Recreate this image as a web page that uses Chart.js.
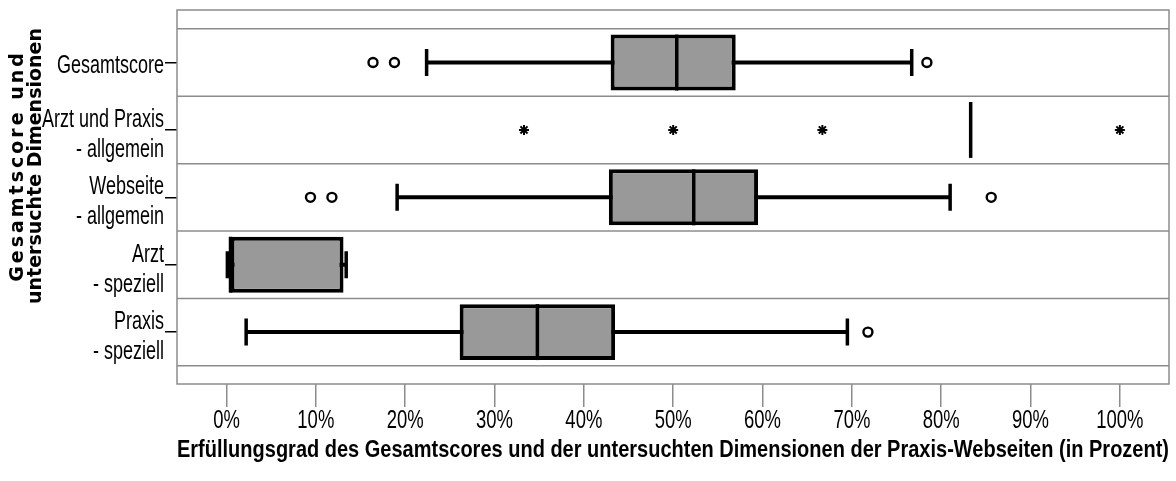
<!DOCTYPE html>
<html>
<head>
<meta charset="utf-8">
<script src="https://cdn.jsdelivr.net/npm/chart.js@4"></script>
<style>
  html, body { margin: 0; padding: 0; background: #fff; }
  #wrap { width: 1176px; height: 481px; }
</style>
</head>
<body>
<div id="wrap"><canvas id="chart"></canvas></div>
<script>
// rows, top to bottom
const categories = [
  ['Gesamtscore'],
  ['Arzt und Praxis', '- allgemein'],
  ['Webseite', '- allgemein'],
  ['Arzt', '- speziell'],
  ['Praxis', '- speziell']
];
// box plot statistics in percent
const whiskerLow  = [22.4, 83.3, 19.1, 0.1, 2.2];
const q1          = [43.0, 83.3, 42.8, 0.45, 26.1];
const median      = [50.4, 83.3, 52.3, 0.45, 34.8];
const q3          = [57.0, 83.3, 59.5, 13.1, 43.5];
const whiskerHigh = [76.7, 83.3, 81.0, 13.4, 69.5];
const outliers = [[16.4, 18.8, 78.4], [], [9.4, 11.8, 85.6], [], [71.8]];
const extremes = [[], [33.3, 50, 66.7, 100], [], [], []];
const xTicks = [0, 10, 20, 30, 40, 50, 60, 70, 80, 90, 100];

const SANS = "'Liberation Sans', Arial, sans-serif";

const toPoints = arr => arr.flatMap((vals, i) => vals.map(v => ({ x: v, y: i })));

// narrow text like the original (no narrow font installed, so squeeze it)
function narrowText(ctx, text, x, y, sx, align) {
  ctx.save();
  ctx.translate(x, y);
  ctx.scale(sx, 1);
  ctx.textAlign = align;
  ctx.textBaseline = 'alphabetic';
  ctx.fillText(text, 0, 0);
  ctx.restore();
}

const boxLines = {
  id: 'boxLines',
  beforeDatasetsDraw(chart) {
    const { ctx, chartArea: a, scales: { x, y } } = chart;
    ctx.save();
    ctx.strokeStyle = '#8c8c8c';
    ctx.lineWidth = 1.5;
    for (let i = 0; i <= categories.length; i++) {
      const py = y.getPixelForValue(i - 0.5);
      ctx.beginPath();
      ctx.moveTo(a.left, py);
      ctx.lineTo(a.right, py);
      ctx.stroke();
    }
    ctx.strokeRect(a.left, a.top, a.right - a.left, a.bottom - a.top);

    // whiskers + caps
    ctx.strokeStyle = '#000';
    categories.forEach((c, i) => {
      if (whiskerHigh[i] === whiskerLow[i]) return;
      const py = y.getPixelForValue(i);
      const lo = x.getPixelForValue(whiskerLow[i]);
      const hi = x.getPixelForValue(whiskerHigh[i]);
      ctx.lineWidth = 4;
      ctx.beginPath();
      ctx.moveTo(lo, py);
      ctx.lineTo(hi, py);
      ctx.stroke();
      ctx.lineWidth = 3.5;
      ctx.beginPath();
      ctx.moveTo(lo, py - 13.5);
      ctx.lineTo(lo, py + 13.5);
      ctx.moveTo(hi, py - 13.5);
      ctx.lineTo(hi, py + 13.5);
      ctx.stroke();
    });
    ctx.restore();
  },
  afterDatasetsDraw(chart) {
    const { ctx, scales: { x } } = chart;
    const bars = chart.getDatasetMeta(2).data;
    ctx.save();
    ctx.strokeStyle = '#000';
    ctx.lineWidth = 3.5;
    bars.forEach((el, i) => {
      const px = x.getPixelForValue(median[i]);
      ctx.beginPath();
      ctx.moveTo(px, el.y - el.height / 2);
      ctx.lineTo(px, el.y + el.height / 2);
      ctx.stroke();
    });
    ctx.restore();
  },
  afterDraw(chart) {
    const { ctx, chartArea: a, scales: { x, y } } = chart;
    ctx.save();
    ctx.fillStyle = '#000';

    // x tick labels
    ctx.font = '26px ' + SANS;
    xTicks.forEach(v => narrowText(ctx, v + '%', x.getPixelForValue(v), 428, 0.71, 'center'));

    // y tick labels
    ctx.font = '25px ' + SANS;
    categories.forEach((lines, i) => {
      const py = y.getPixelForValue(i);
      if (lines.length === 1) {
        narrowText(ctx, lines[0], a.left - 13, py + 10, 0.72, 'right');
      } else {
        narrowText(ctx, lines[0], a.left - 13, py - 3, 0.72, 'right');
        narrowText(ctx, lines[1], a.left - 13, py + 27, 0.72, 'right');
      }
    });

    // rotated two-line y axis title
    ctx.font = "bold 19px 'DejaVu Sans', sans-serif";
    ctx.textAlign = 'center';
    ctx.textBaseline = 'alphabetic';
    ctx.translate(0, 166);
    ctx.rotate(-Math.PI / 2);
    if ('letterSpacing' in ctx) ctx.letterSpacing = '3px';
    ctx.fillText('Gesamtscore und', 0, 23);
    if ('letterSpacing' in ctx) ctx.letterSpacing = '0px';
    ctx.fillText('untersuchte Dimensionen', 0, 41);
    ctx.restore();
  }
};

new Chart(document.getElementById('chart'), {
  type: 'bar',
  data: {
    datasets: [
      {
        type: 'scatter',
        data: toPoints(outliers),
        pointStyle: 'circle',
        radius: 4.5,
        borderWidth: 2.4,
        borderColor: '#000',
        backgroundColor: '#fff'
      },
      {
        type: 'scatter',
        data: toPoints(extremes),
        pointStyle: 'star',
        radius: 5,
        borderWidth: 2,
        borderColor: '#000',
        backgroundColor: '#000'
      },
      {
        type: 'bar',
        indexAxis: 'y',
        data: categories.map((c, i) => ({ x: [q1[i], q3[i]], y: i })),
        backgroundColor: '#999999',
        borderColor: '#000',
        borderWidth: 4,
        borderSkipped: false,
        barPercentage: 0.83,
        categoryPercentage: 1
      }
    ]
  },
  options: {
    responsive: true,
    maintainAspectRatio: false,
    animation: false,
    layout: { padding: { top: 10, right: 6, left: 0, bottom: 0 } },
    plugins: { legend: { display: false }, tooltip: { enabled: false } },
    scales: {
      x: {
        type: 'linear',
        offset: false,
        min: -5.54,
        max: 105.5,
        afterBuildTicks: s => { s.ticks = xTicks.map(v => ({ value: v })); },
        afterFit: s => { s.height = 97; },
        border: { display: false },
        grid: { offset: false, drawOnChartArea: false, tickLength: 23, color: '#8c8c8c', lineWidth: 1.5 },
        ticks: { display: false, autoSkip: false },
        title: {
          display: true,
          text: 'Erfüllungsgrad des Gesamtscores und der untersuchten Dimensionen der Praxis-Webseiten (in Prozent)',
          color: '#000',
          font: { family: SANS, size: 24, weight: 'bold' },
          padding: { top: 0, bottom: 16.5 }
        }
      },
      y: {
        type: 'linear',
        offset: false,
        beginAtZero: false,
        reverse: true,
        min: -0.78,
        max: 4.77,
        afterBuildTicks: s => { s.ticks = categories.map((c, i) => ({ value: i })); },
        afterFit: s => { s.width = 177; },
        border: { display: false },
        grid: { offset: false, drawOnChartArea: false, tickLength: 12, color: '#000', lineWidth: 1.5 },
        ticks: { display: false, autoSkip: false }
      }
    }
  },
  plugins: [boxLines]
});
</script>
</body>
</html>
